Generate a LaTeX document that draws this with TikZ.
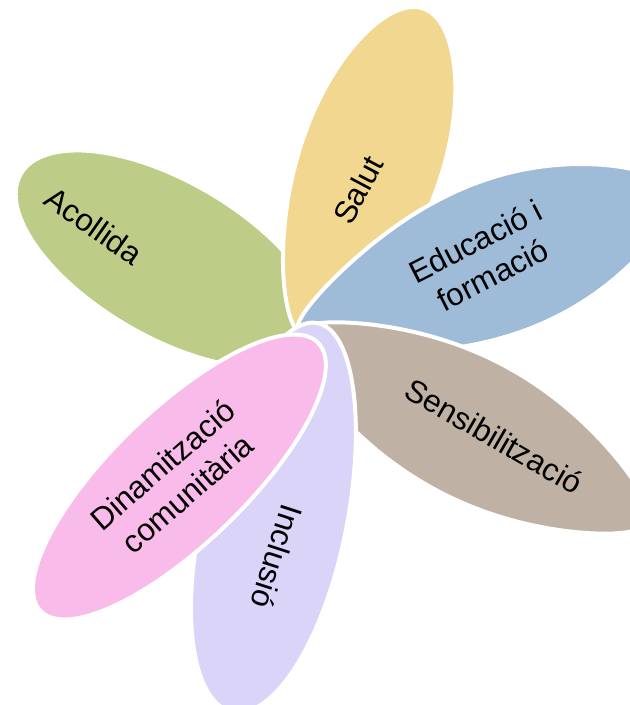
\documentclass[tikz,border=0pt]{standalone}
\usepackage{fontspec}
\setmainfont{Liberation Sans}
\definecolor{acollidaGreen}{RGB}{189,204,135}
\definecolor{salutYellow}{RGB}{241,215,143}
\definecolor{educacioBlue}{RGB}{158,187,215}
\definecolor{sensibBrown}{RGB}{191,178,165}
\definecolor{inclusioLilac}{RGB}{218,212,249}
\definecolor{dinamPink}{RGB}{249,187,234}
\tikzset{petal/.style={draw=white,line width=2pt,line join=round}}
\begin{document}
\begin{tikzpicture}[x=0.5pt,y=0.5pt,font=\fontsize{15.7}{19}\selectfont]
	\useasboundingbox (-300,-380) rectangle (330,325);
	\foreach \cx/\cy/\ang/\len/\wid/\egg/\pinch/\col in {-132/66/150/170/78/0/0/acollidaGreen,
		66/150/71/176/71/0.1/0.1/salutYellow,
		184.2/62/21/200/77/0.15/0.3/educacioBlue,
		170.5/-103/-28/200/71/0/0.3/sensibBrown,
		-25/-192.5/-102.5/199/72/0.05/0/inclusioLilac,
		-120.6/-152/-136/193/67/0/0/dinamPink}
	\filldraw [petal,fill=\col,shift={(\cx,\cy)},rotate=\ang]
		plot [domain=0:360,samples=73,smooth]
		({\len*cos(\x)},{\wid*sin(\x)*(1+\egg*cos(\x))*(1-\pinch*cos(\x)*cos(\x))}) -- cycle;
	\node [rotate=-35] (acollida) at (-206,99) {Acollida};
	\node [rotate=62] (salut) at (58,135) {Salut};
	\node [rotate=27,align=center] (educacio) at (184,67) {Educació i\\formació};
	\node [rotate=-30] (sensib) at (194,-111) {Sensibilització};
	\node [rotate=-108] (inclusio) at (-23,-232) {Inclusió};
	\node [rotate=41,align=center] (dinam) at (-125,-154) {Dinamització\\comunitària};
\end{tikzpicture}
\end{document}
